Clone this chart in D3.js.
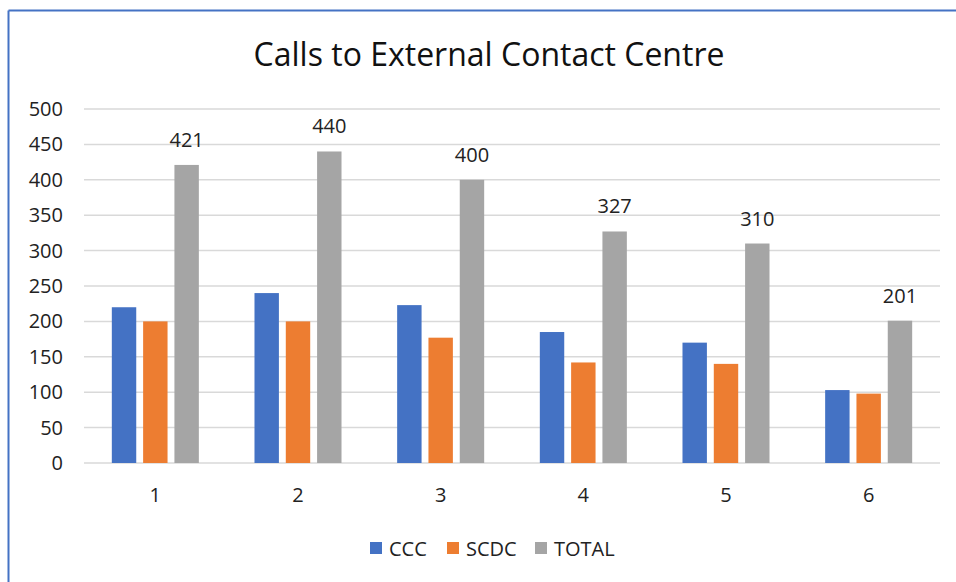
<!DOCTYPE html>
<html>
<head>
<meta charset="utf-8">
<script src="https://cdn.jsdelivr.net/npm/d3@7"></script>
<style>
  body { margin: 0; background: #fff; }
  svg { display: block; font-family: "Open Sans", "Noto Sans", sans-serif; }
</style>
</head>
<body>
<div id="chart-area"></div>
<script>
// data
let categories = ["1", "2", "3", "4", "5", "6"];
let seriesNames = ["CCC", "SCDC", "TOTAL"];
let ccc   = [220, 240, 223, 185, 170, 103];
let scdc  = [200, 200, 177, 142, 140, 98];
let total = [421, 440, 400, 327, 310, 201];
let yTicks = [0, 50, 100, 150, 200, 250, 300, 350, 400, 450, 500];
let colors = ["#4472c4", "#ed7d31", "#a5a5a5"];

let W = 956, H = 582;
let margin = { left: 84, right: 16, top: 109, bottom: 119 };
let width = W - margin.left - margin.right,
    height = H - margin.top - margin.bottom;

let svg = d3.select("#chart-area")
    .append("svg")
    .attr("width", W)
    .attr("height", H);

// frame (blue border, cropped on right and bottom)
svg.append("line")
    .attr("x1", 8.5).attr("x2", W).attr("y1", 10.5).attr("y2", 10.5)
    .attr("stroke", "#4472c4").attr("stroke-width", 2);
svg.append("line")
    .attr("x1", 8.5).attr("x2", 8.5).attr("y1", 10.5).attr("y2", H)
    .attr("stroke", "#4472c4").attr("stroke-width", 2);

// Title
svg.append("text")
    .attr("x", 489)
    .attr("y", 66)
    .attr("text-anchor", "middle")
    .attr("font-size", "32px")
    .attr("fill", "#111")
    .text("Calls to External Contact Centre");

let g = svg.append("g")
    .attr("transform", "translate(" + margin.left + "," + margin.top + ")");

// X Scale
let x = d3.scaleBand()
    .domain(categories)
    .range([0, width])
    .paddingInner(0.39)
    .paddingOuter(0.195);

let x1 = d3.scaleBand()
    .domain(seriesNames)
    .range([0, x.bandwidth()])
    .paddingInner(0.22);

// Y Scale
let y = d3.scaleLinear()
    .domain([0, 500])
    .range([height, 0]);

// gridlines
g.append("g")
    .attr("class", "grid")
    .selectAll("line")
    .data(yTicks)
    .enter()
    .append("line")
        .attr("x1", 0)
        .attr("x2", width)
        .attr("y1", function(d){ return y(d); })
        .attr("y2", function(d){ return y(d); })
        .attr("stroke", "#d9d9d9")
        .attr("stroke-width", 1.5);

// Y Axis
let yAxisCall = d3.axisLeft(y)
    .tickValues(yTicks)
    .tickSize(0)
    .tickPadding(21);
let yAxis = g.append("g")
    .attr("class", "y axis")
    .call(yAxisCall);
yAxis.select(".domain").remove();
yAxis.selectAll("text")
    .attr("font-size", "20px")
    .attr("fill", "#222")
    .attr("font-family", "'Open Sans', sans-serif");

// X Axis
let xAxisCall = d3.axisBottom(x).tickSize(0).tickPadding(25);
let xAxis = g.append("g")
    .attr("class", "x axis")
    .attr("transform", "translate(0," + height + ")")
    .call(xAxisCall);
xAxis.select(".domain").remove();
xAxis.selectAll("text")
    .attr("font-size", "20px")
    .attr("fill", "#222")
    .attr("font-family", "'Open Sans', sans-serif");

// Bars
let rows = categories.map(function(c, i){
    return { cat: c, values: [ccc[i], scdc[i], total[i]] };
});

let groups = g.selectAll(".group")
    .data(rows)
    .enter()
    .append("g")
        .attr("class", "group")
        .attr("transform", function(d){ return "translate(" + x(d.cat) + ",0)"; });

groups.selectAll("rect")
    .data(function(d){ return d.values.map(function(v, j){ return { name: seriesNames[j], value: v, j: j }; }); })
    .enter()
    .append("rect")
        .attr("x", function(d){ return x1(d.name); })
        .attr("y", function(d){ return y(d.value); })
        .attr("width", x1.bandwidth())
        .attr("height", function(d){ return height - y(d.value); })
        .attr("fill", function(d){ return colors[d.j]; });

// TOTAL labels
groups.append("text")
    .attr("x", function(){ return x1("TOTAL") + x1.bandwidth() / 2; })
    .attr("y", function(d){ return y(d.values[2]) - 18; })
    .attr("text-anchor", "middle")
    .attr("font-size", "20px")
    .attr("fill", "#222")
    .text(function(d){ return d.values[2]; });

// Legend
let legendX = [370, 447, 535];
let legend = svg.append("g").attr("class", "legend");
seriesNames.forEach(function(name, i){
    legend.append("rect")
        .attr("x", legendX[i])
        .attr("y", 542)
        .attr("width", 12)
        .attr("height", 12)
        .attr("fill", colors[i]);
    legend.append("text")
        .attr("x", legendX[i] + 19)
        .attr("y", 556)
        .attr("font-size", "20px")
        .attr("fill", "#222")
        .text(name);
});
</script>
</body>
</html>
